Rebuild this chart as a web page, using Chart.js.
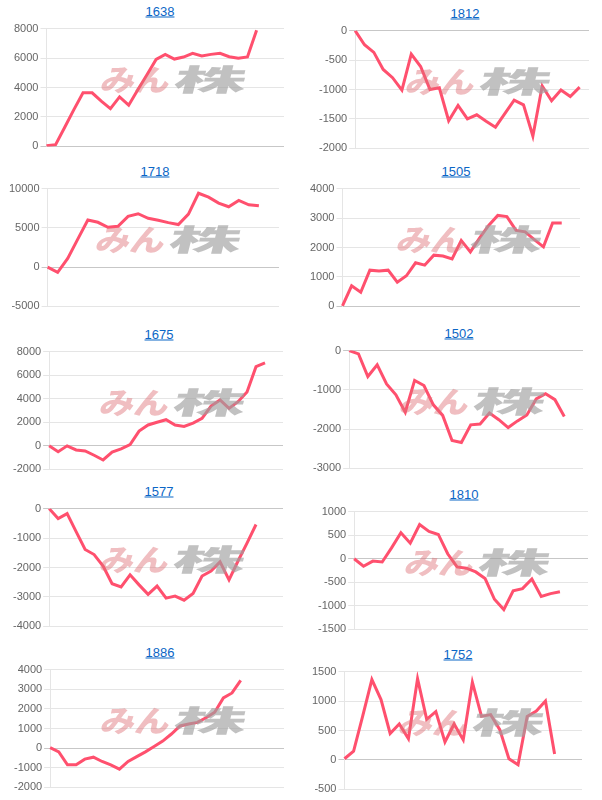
<!DOCTYPE html>
<html>
<head>
<meta charset="utf-8">
<script src="https://cdn.jsdelivr.net/npm/chart.js@4.4.1/dist/chart.umd.min.js"></script>
<style>
  html, body { margin:0; padding:0; background:#fff; width:602px; height:800px; overflow:hidden; }
  .ttl { position:absolute; font:13px "Liberation Sans", Arial, sans-serif; color:#0b66c6; text-decoration:underline; transform:translate(-50%,-50%); white-space:nowrap; }
  canvas { position:absolute; }
  .wm { position:absolute; height:27px; pointer-events:none; white-space:nowrap; font-family:"Noto Sans CJK JP", sans-serif; font-weight:900; font-size:30px; line-height:27px; }
  .wm span { display:inline-block; transform-origin:left center; }
  .wm .p { color:rgba(222,110,118,0.45); transform:skewX(-14deg) scaleX(1.15); }
  .wm .g { color:rgba(160,160,160,0.65); transform:skewX(-14deg) scaleX(2.4); position:absolute; left:73px; top:0; }
</style>
</head>
<body>
<script>
// ---- data ----
const titles = ["1638","1812","1718","1505","1675","1502","1577","1810","1886","1752"];
const labelCounts = [27,26,24,27,27,26,27,26,28,27];

const s1638 = [45,115,1300,2500,3640,3640,3070,2570,3360,2800,3850,4860,5910,6250,5930,6070,6320,6140,6250,6320,6090,5980,6070,7890];
const s1812 = [0,-240,-370,-660,-800,-1010,-400,-610,-1000,-970,-1530,-1270,-1500,-1430,-1540,-1640,-1410,-1180,-1260,-1790,-940,-1190,-1010,-1120,-960];
const s1718 = [0,-670,1100,3570,6010,5710,5080,5210,6470,6800,6220,5970,5670,5420,6760,9410,8910,8150,7690,8490,7940,7810];
const s1505 = [20,700,480,1230,1200,1230,820,1040,1480,1400,1740,1710,1610,2240,1850,2320,2750,3090,3050,2580,2530,2270,2020,2830,2830];
const s1675 = [0,-500,0,-350,-430,-800,-1200,-530,-250,100,1250,1770,2000,2220,1770,1650,1930,2330,3380,3890,3180,3750,4570,6720,7040];
const s1502 = [0,-85,-660,-360,-850,-1125,-1570,-760,-890,-1380,-1650,-2290,-2340,-1890,-1870,-1590,-1760,-1960,-1790,-1640,-1230,-1100,-1250,-1680];
const s1577 = [0,-340,-170,-780,-1390,-1560,-1950,-2550,-2660,-2250,-2590,-2910,-2630,-3040,-2970,-3110,-2880,-2290,-2120,-1810,-2420,-1780,-1170,-540];
const s1810 = [0,-160,-50,-70,230,550,330,725,580,515,105,-175,-200,-280,-420,-860,-1080,-680,-635,-430,-800,-740,-700];
const s1886 = [30,-190,-850,-850,-560,-460,-680,-850,-1070,-680,-430,-190,80,360,720,1130,1230,1310,1550,1830,2560,2810,3450];
const s1752 = [20,150,750,1365,1025,450,610,360,1380,690,820,305,610,340,1320,740,770,515,20,-80,740,830,1000,100];

const ticks1638 = [0,2000,4000,6000,8000];
const ticks1812 = [-2000,-1500,-1000,-500,0];
const ticks1718 = [-5000,0,5000,10000];
const ticks1505 = [0,1000,2000,3000,4000];
const ticks1675 = [-2000,0,2000,4000,6000,8000];
const ticks1502 = [-3000,-2000,-1000,0];
const ticks1577 = [-4000,-3000,-2000,-1000,0];
const ticks1810 = [-1500,-1000,-500,0,500,1000];
const ticks1886 = [-2000,-1000,0,1000,2000,3000,4000];
const ticks1752 = [-500,0,500,1000,1500];

const seriesList = [s1638,s1812,s1718,s1505,s1675,s1502,s1577,s1810,s1886,s1752];
const tickList = [ticks1638,ticks1812,ticks1718,ticks1505,ticks1675,ticks1502,ticks1577,ticks1810,ticks1886,ticks1752];

// ---- layout (positions only) ----
const titleCX = [160,164,155,155,159,158,159,163,160,157];
const titleCY = [11,13.3,171,171,334,333.3,491,494,652,654];

for (let i = 0; i < titles.length; i++) {
  const col = i % 2;
  const px = col * 301;
  const cx = px + titleCX[i];
  const cy = titleCY[i];

  const a = document.createElement('a');
  a.className = 'ttl';
  a.href = '#';
  a.textContent = titles[i];
  a.style.left = cx + 'px';
  a.style.top = cy + 'px';
  document.body.appendChild(a);

  const cv = document.createElement('canvas');
  cv.width = 272; cv.height = 135;
  cv.style.left = (cx - 148) + 'px';
  cv.style.top = (cy + 8.5) + 'px';
  document.body.appendChild(cv);

  const wm = document.createElement('div');
  wm.className = 'wm';
  wm.style.left = (cx + 15 - 73) + 'px';
  wm.style.top = (cy + 54) + 'px';
  wm.innerHTML = '<span class="p">みん</span><span class="g">株</span>';
  document.body.appendChild(wm);

  const n = labelCounts[i];
  const labels = Array.from({length:n}, (_, k) => String(k + 1));
  const data = labels.map((_, k) => k < seriesList[i].length ? seriesList[i][k] : null);
  const tk = tickList[i];

  new Chart(cv, {
    type: 'line',
    data: { labels, datasets: [{ data, borderColor:'rgb(255,80,110)', borderWidth:3, pointRadius:0, pointHoverRadius:0, tension:0, fill:false }] },
    options: {
      responsive:false, animation:false,
      layout:{ padding:0 },
      plugins:{ legend:{display:false}, tooltip:{enabled:false} },
      scales:{
        x:{ display:false },
        y:{
          min: tk[0], max: tk[tk.length-1],
          afterBuildTicks: (ax) => { ax.ticks = tk.map(v => ({value:v})); },
          ticks:{ color:'#666', padding:2, font:{ size:11, family:'"Liberation Sans", Arial, sans-serif' }, callback: v => String(v) },
          grid:{ color: ctx => (ctx.tick && ctx.tick.value === 0) ? 'rgba(0,0,0,0.22)' : 'rgba(0,0,0,0.1)', tickLength:6 },
          border:{ color:'rgba(0,0,0,0.1)' }
        }
      }
    }
  });
}
</script>
</body>
</html>
